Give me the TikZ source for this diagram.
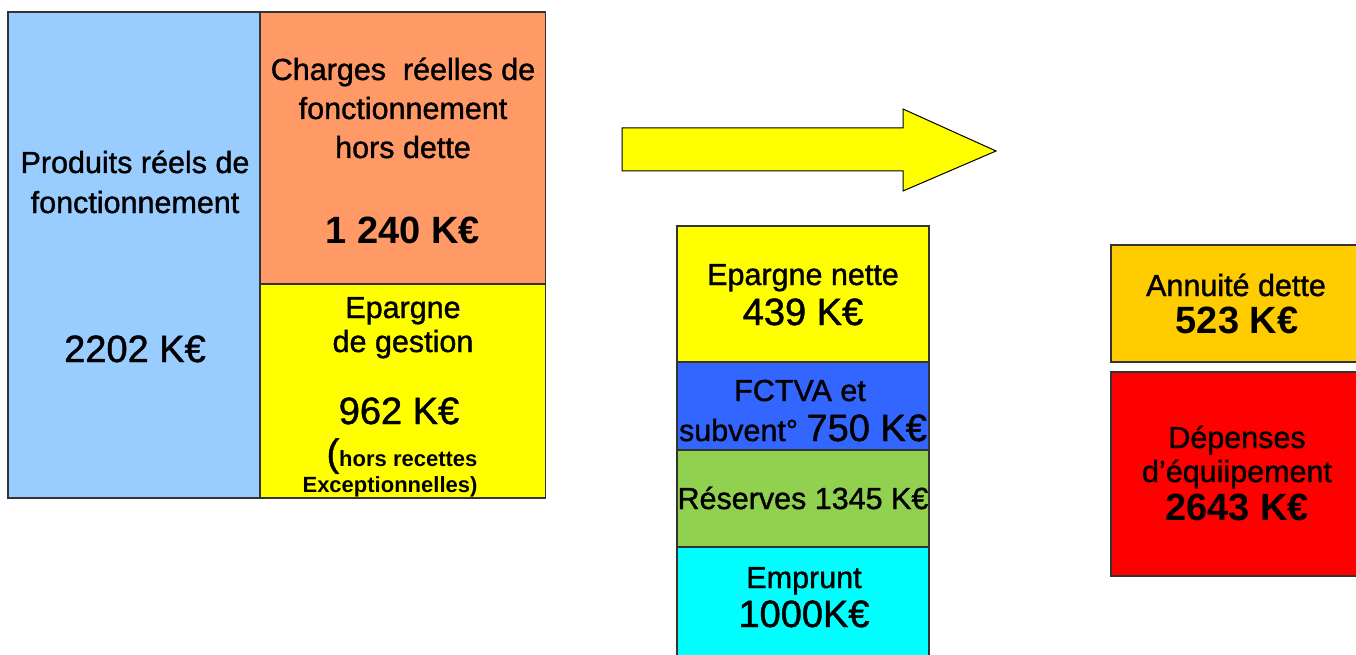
\documentclass[tikz,border=0pt]{standalone}
\usepackage{fontspec}
\setmainfont{Liberation Sans}
\newfontfamily\heavyfont{Liberation Sans}[FakeBold=1.2]
\definecolor{cblue}{HTML}{99CCFF}
\definecolor{corange}{HTML}{FF9966}
\definecolor{cyellow}{HTML}{FFFF00}
\definecolor{croyal}{HTML}{3366FF}
\definecolor{cgreen}{HTML}{92D050}
\definecolor{ccyan}{HTML}{00FFFF}
\definecolor{cgold}{HTML}{FFCC00}
\definecolor{cred}{HTML}{FF0000}
\definecolor{cline}{HTML}{333333}
\newcommand\labf{\heavyfont\fontsize{30.5}{40}\selectfont}
\newcommand\numf{\heavyfont\fontsize{38}{44}\selectfont}
\newcommand\numb{\normalfont\fontsize{38}{44}\selectfont\bfseries}
\newcommand\notef{\normalfont\fontsize{22}{26}\selectfont\bfseries}
\tikzset{
  box/.style={draw=cline, line width=1.3pt, inner sep=0pt, outer sep=0pt, anchor=north west},
  txt/.style={anchor=base, inner sep=0pt, outer sep=0pt, text=black},
}
\begin{document}
\begin{tikzpicture}[x=1pt,y=-1pt]
\useasboundingbox (0,0) rectangle (1356,655);
% left block
\node[box, fill=cblue, minimum width=252pt, minimum height=486pt] (prod) at (8,12) {};
\node[box, fill=corange, minimum width=285.5pt, minimum height=272pt] (charges) at (260,12) {};
\node[box, fill=cyellow, minimum width=285.5pt, minimum height=214pt] (epg) at (260,284) {};
\node[txt] (t1) at (135,173) {\labf Produits réels de};
\node[txt] (t2) at (135,213) {\labf fonctionnement};
\node[txt] (t3) at (135,362) {\numf 2202 K€};
\node[txt] (t4) at (403,80) {\labf Charges\ \ réelles de};
\node[txt] (t5) at (403,119) {\labf fonctionnement};
\node[txt] (t6) at (403,158) {\labf hors dette};
\node[txt] (t7) at (403,243) {\numb 1 240 K€};
\node[txt] (t8) at (403,318) {\labf Epargne};
\node[txt] (t9) at (403,352) {\labf de gestion};
\node[txt] (t10) at (399,424) {\numf 962 K€};
\node[txt] (t11) at (402,466) {\numf(\notef hors recettes};
\node[txt] (t12) at (390,492) {\notef Exceptionnelles)};
% arrow
\draw[draw=black, fill=cyellow, line width=1pt, line join=miter]
  (622,128) -- (903,128) -- (903,109) -- (996,151) -- (903,191) -- (903,171) -- (622,171) -- cycle;
% middle stack
\node[box, fill=cyellow, minimum width=252pt, minimum height=136pt] (nette) at (677,226) {};
\node[box, fill=croyal, minimum width=252pt, minimum height=88pt] (fctva) at (677,362) {};
\node[box, fill=cgreen, minimum width=252pt, minimum height=97pt] (res) at (677,450) {};
\node[box, fill=ccyan, minimum width=252pt, minimum height=120pt] (emp) at (677,547) {};
\node[txt] (m1) at (803,285) {\labf Epargne nette};
\node[txt] (m2) at (803,325) {\numf 439 K€};
\node[txt] (m3) at (800,401) {\labf FCTVA et};
\node[txt] (m4) at (803,441) {\labf subvent° \numf 750 K€};
\node[txt] (m5) at (803,509) {\labf Réserves 1345 K€};
\node[txt] (m6) at (804,588) {\labf Emprunt};
\node[txt] (m7) at (804,627) {\numf 1000K€};
% right
\node[box, fill=cgold, minimum width=246pt, minimum height=117pt] (ann) at (1111,245) {};
\node[box, fill=cred, minimum width=246pt, minimum height=204pt] (dep) at (1111,372) {};
\node[txt] (r1) at (1236,296) {\labf Annuité dette};
\node[txt] (r2) at (1237,333) {\numb 523 K€};
\node[txt] (r3) at (1237,448) {\labf Dépenses};
\node[txt] (r4) at (1237,482) {\labf d’équiipement};
\node[txt] (r5) at (1237,520) {\numb 2643 K€};
\end{tikzpicture}
\end{document}
